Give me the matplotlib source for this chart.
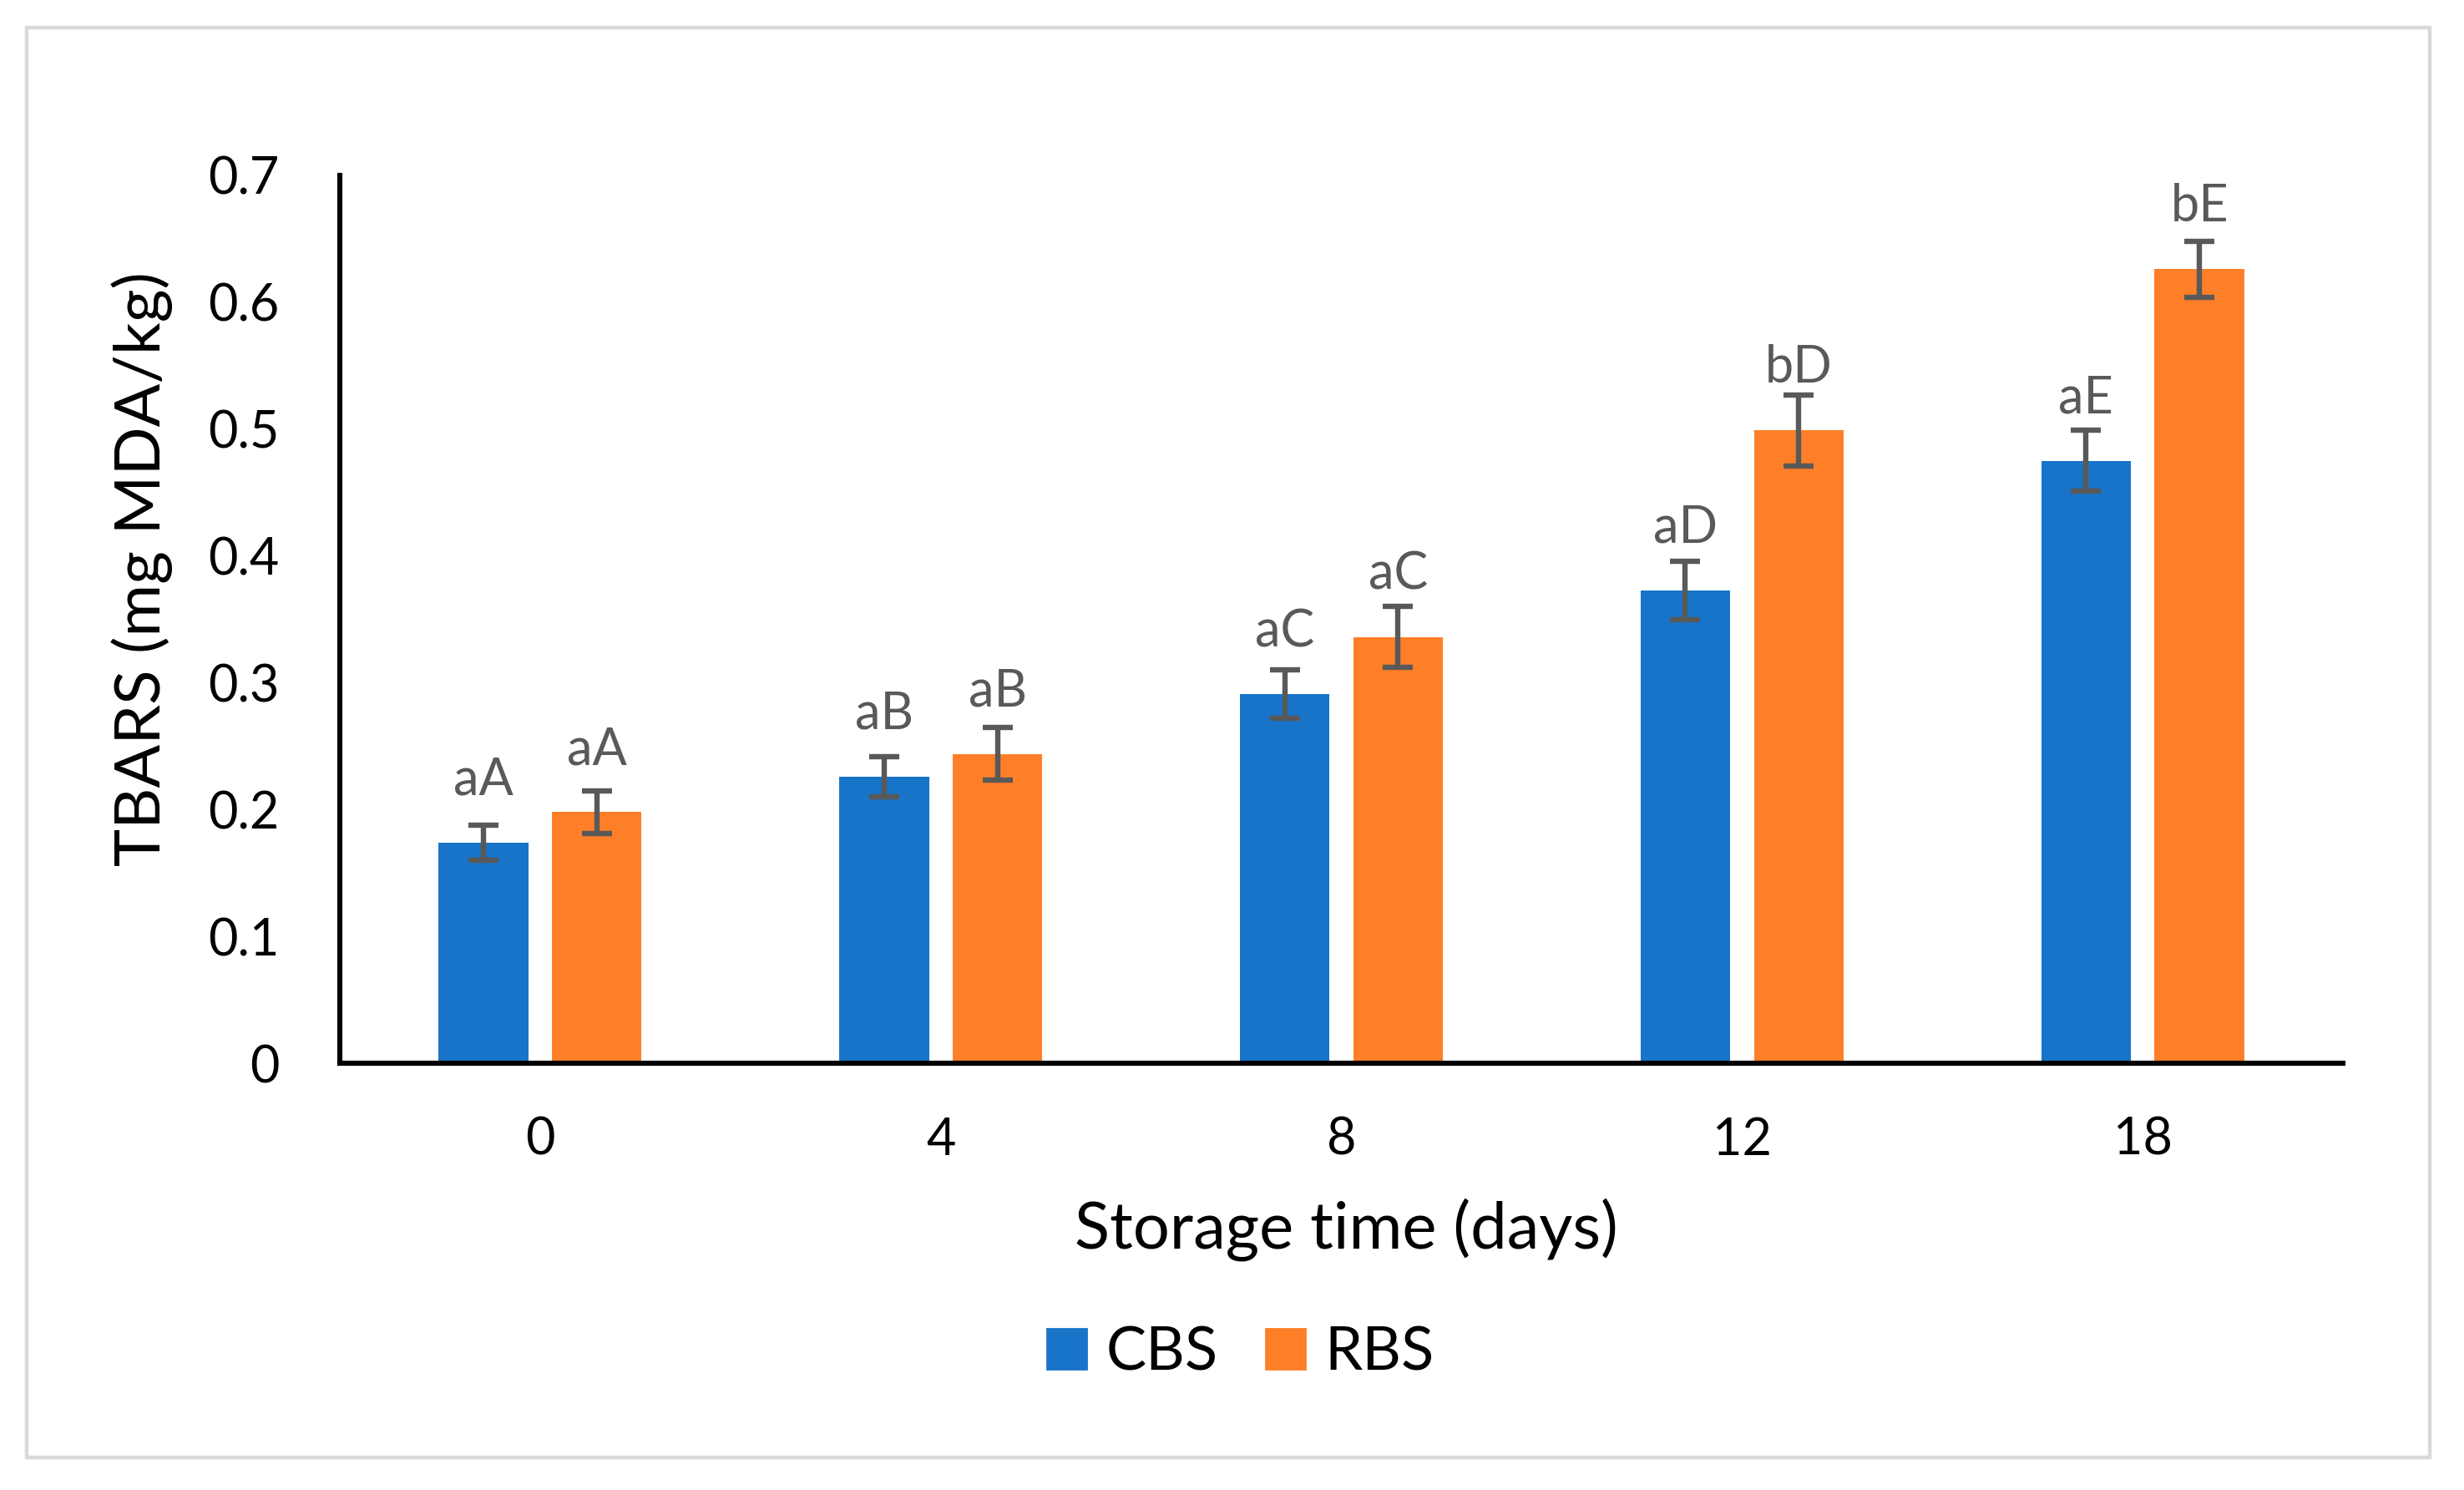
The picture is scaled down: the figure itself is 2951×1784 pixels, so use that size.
import numpy as np
import matplotlib.pyplot as plt
import matplotlib.patches as mpatches
from matplotlib.ticker import FuncFormatter

plt.rcParams['font.family'] = ['Lato', 'DejaVu Sans']

# data
days = ['0', '4', '8', '12', '18']
cbs = [0.174, 0.226, 0.291, 0.373, 0.475]
rbs = [0.198, 0.244, 0.336, 0.499, 0.626]
cbs_err = [0.014, 0.016, 0.019, 0.023, 0.024]
rbs_err = [0.017, 0.021, 0.024, 0.028, 0.022]
cbs_lab = ['aA', 'aB', 'aC', 'aD', 'aE']
rbs_lab = ['aA', 'aB', 'aC', 'bD', 'bE']

blue = '#1874C8'
orange = '#FE7F28'
grey = '#595959'

fig = plt.figure(figsize=(14.755, 8.92), dpi=200)

# outer light frame
fig.patches.append(mpatches.Rectangle((0.011, 0.022), 0.975, 0.9595,
                                      transform=fig.transFigure, fill=False,
                                      edgecolor='#D9D9D9', linewidth=1.6))

ax = fig.add_axes([0.1379, 0.2864, 0.8130, 0.5959])

x = np.arange(len(days))
w = 0.224
off = 0.1415
ekw = dict(ecolor=grey, elinewidth=2.3, capthick=2.3)

ax.bar(x - off, cbs, w, color=blue, yerr=cbs_err, capsize=6.5, error_kw=ekw, zorder=2)
ax.bar(x + off, rbs, w, color=orange, yerr=rbs_err, capsize=6.5, error_kw=ekw, zorder=2)

# letters sit a fixed distance above each bar
for i in range(len(days)):
    ax.annotate(cbs_lab[i], xy=(x[i] - off, cbs[i]), xytext=(0, 20.5),
                textcoords='offset points', ha='center', va='baseline',
                fontsize=22, color=grey)
    ax.annotate(rbs_lab[i], xy=(x[i] + off, rbs[i]), xytext=(0, 20.5),
                textcoords='offset points', ha='center', va='baseline',
                fontsize=22, color=grey)

ax.set_xlim(-0.5, 4.5)
ax.set_ylim(0, 0.7)
ax.set_xticks(x)
ax.set_xticklabels(days)
ax.set_yticks(np.arange(0, 0.71, 0.1))
ax.yaxis.set_major_formatter(FuncFormatter(lambda v, p: f'{v:.1f}' if v > 0 else '0'))
ax.tick_params(axis='both', length=0, labelsize=22)
ax.tick_params(axis='x', pad=23)
ax.tick_params(axis='y', pad=26)

for s in ['top', 'right']:
    ax.spines[s].set_visible(False)
ax.spines['left'].set_linewidth(2.2)
ax.spines['bottom'].set_linewidth(2.2)

fig.text(0.5463, 0.175, 'Storage time (days)', ha='center', va='center', fontsize=28)
fig.text(0.0577, 0.618, 'TBARS (mg MDA/kg)', ha='center', va='center',
         rotation=90, fontsize=27.5)

handles = [mpatches.Patch(color=blue, label='CBS'),
           mpatches.Patch(color=orange, label='RBS')]
fig.legend(handles=handles, loc='center', bbox_to_anchor=(0.5036, 0.092), ncol=2,
           frameon=False, fontsize=26, handlelength=0.64, handleheight=0.64,
           handletextpad=0.33, columnspacing=0.8)

plt.savefig('out.png', dpi=200)
